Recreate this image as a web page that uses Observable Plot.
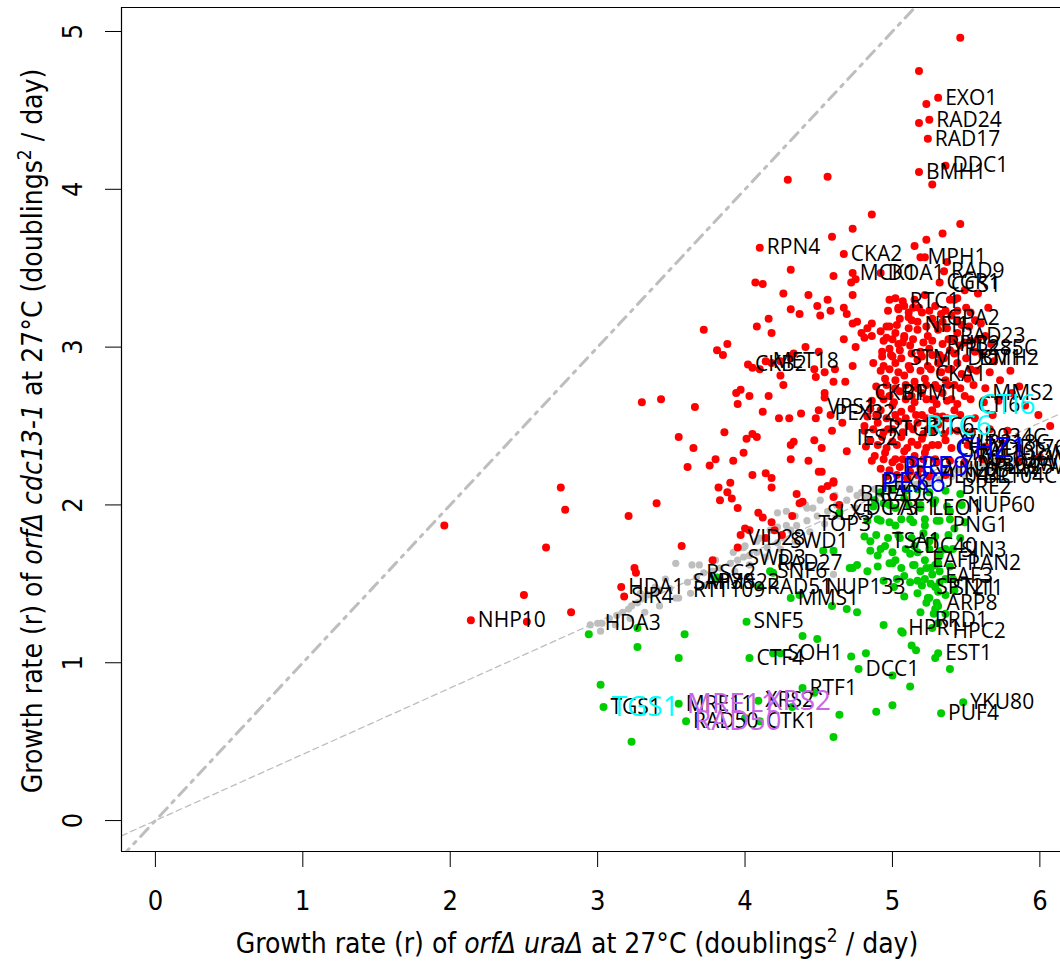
<!DOCTYPE html>
<html>
<head>
<meta charset="utf-8">
<script src="https://cdn.jsdelivr.net/npm/d3@7"></script>
<script src="https://cdn.jsdelivr.net/npm/@observablehq/plot@0.6"></script>
<style>
  body { margin: 0; background: #fff; }
  #chart { width: 1060px; height: 962px; overflow: hidden; }
</style>
</head>
<body>
<div id="chart"></div>
<script>
// Axis ranges and ticks (growth rate, doublings^2/day)
const xDomain = [-0.23, 6.14];
const yDomain = [-0.196, 5.152];
const xTicks = [0, 1, 2, 3, 4, 5, 6];
const yTicks = [0, 1, 2, 3, 4, 5];

// Reference lines through the origin: identity and fitted genetic-independence slope
const identitySlope = 1;
const fitSlope = 0.42;

// Deletions fitter than expected in cdc13-1 (suppressors)
const suppressors = [
  [5.46,4.96],[5.18,4.75],[5.31,4.58],[5.23,4.54],[5.25,4.44],[5.18,4.42],[5.24,4.32],[5.36,4.15],[5.18,4.11],[5.27,4.03],[4.29,4.06],[4.56,4.08],
  [4.86,3.84],[5.46,3.78],[4.73,3.75],[4.59,3.70],[5.34,3.72],[5.23,3.68],[5.15,3.64],[4.10,3.63],[4.67,3.59],[5.19,3.57],[5.22,3.57],[5.37,3.54],
  [4.31,3.49],[4.73,3.47],[4.92,3.47],[5.35,3.48],[4.60,3.45],[4.07,3.41],[4.12,3.40],[4.75,3.43],[4.72,3.41],[5.32,3.41],[5.58,3.34],[4.26,3.34],
  [4.43,3.33],[4.73,3.33],[4.98,3.30],[5.07,3.29],[4.56,3.30],[4.49,3.26],[4.58,3.23],[4.31,3.24],[4.37,3.21],[4.51,3.20],[4.67,3.25],[4.69,3.21],
  [5.04,3.25],[5.14,3.25],[5.39,3.30],[5.44,3.31],[5.50,3.25],[4.16,3.18],[4.08,3.13],[4.18,3.09],[3.88,3.02],[3.85,2.95],[4.76,3.16],[4.73,3.15],
  [4.86,3.15],[4.83,3.12],[4.92,3.10],[4.98,3.13],[4.79,3.09],[4.81,3.06],[4.86,3.07],[4.96,3.06],[4.67,3.05],[4.75,3.00],[4.41,3.00],[4.14,2.91],
  [4.24,2.91],[4.31,2.93],[4.93,2.97],[5.00,2.94],[5.04,3.02],[5.08,3.06],[5.11,3.19],[4.73,2.88],[4.87,2.90],[4.94,2.88],[4.02,2.89],[4.10,2.86],
  [3.72,3.11],[3.81,2.98],[4.05,2.87],[4.18,2.90],[4.24,2.82],[4.33,2.96],[4.47,2.86],[4.48,2.81],[4.54,2.84],[4.61,2.86],[4.50,2.97],[4.60,2.78],
  [4.68,2.78],[4.26,2.76],[3.94,2.71],[3.97,2.73],[4.03,2.69],[4.16,2.69],[4.54,2.71],[4.54,2.68],[3.30,2.65],[3.43,2.67],[3.66,2.62],[3.95,2.64],
  [4.12,2.59],[4.23,2.55],[4.30,2.55],[4.38,2.58],[4.50,2.60],[4.48,2.55],[4.58,2.57],[4.66,2.52],[4.59,2.47],[3.86,2.46],[3.55,2.43],[3.65,2.36],
  [4.05,2.45],[4.01,2.42],[4.08,2.43],[4.33,2.40],[4.31,2.38],[4.47,2.41],[4.52,2.36],[4.69,2.34],[3.80,2.29],[3.76,2.25],[3.61,2.24],[3.92,2.28],
  [3.99,2.33],[4.31,2.29],[4.43,2.28],[4.50,2.21],[4.52,2.21],[4.05,2.19],[4.14,2.20],[4.18,2.17],[4.60,2.15],
  [2.75,2.11],[2.78,1.97],[1.96,1.87],[2.65,1.73],[2.50,1.43],[2.82,1.32],[2.14,1.27],[2.52,1.26],[3.16,1.48],
  [3.40,2.01],[3.21,1.93],[3.57,1.74],[3.78,1.65],[3.25,1.60],[3.26,1.57],[3.18,1.42],
  [3.82,2.11],[3.90,2.14],[3.88,2.08],[3.91,2.04],[3.95,1.98],[3.83,2.03],[4.18,2.11],[4.35,2.07],[4.37,2.01],[4.39,2.02],[4.52,2.10],[4.56,2.12],
  [4.60,2.14],[4.60,2.05],[4.64,2.00],[4.09,1.95],[4.12,1.92],[4.18,1.89],[4.32,1.93],[4.00,1.85],[4.03,1.84],[3.97,1.81],[3.95,1.73],[4.20,1.84],
  [4.14,1.79],[4.25,1.81],
  [5.02,3.31],[5.08,3.26],[5.15,3.30],[5.22,3.33],[5.29,3.26],[5.36,3.23],[5.42,3.30],[5.49,3.36],
  [5.05,3.18],[5.13,3.17],[5.20,3.22],[5.27,3.18],[5.34,3.16],[5.40,3.20],[5.47,3.14],[5.56,3.17],
  [5.02,3.09],[5.08,3.07],[5.17,3.11],[5.24,3.07],[5.31,3.11],[5.38,3.05],[5.44,3.09],[5.53,3.04],[5.63,3.07],
  [4.98,2.99],[5.05,2.98],[5.12,3.01],[5.19,2.97],[5.25,2.99],[5.32,2.95],[5.39,2.98],[5.46,3.01],[5.56,2.97],
  [5.02,2.90],[5.11,2.88],[5.17,2.92],[5.24,2.88],[5.31,2.90],[5.38,2.86],[5.44,2.90],[5.53,2.86],
  [4.95,2.80],[5.02,2.79],[5.08,2.82],[5.15,2.78],[5.22,2.80],[5.29,2.76],[5.36,2.79],[5.42,2.76],[5.51,2.80],
  [4.92,2.71],[4.98,2.69],[5.05,2.72],[5.13,2.69],[5.20,2.71],[5.27,2.67],[5.34,2.71],[5.40,2.67],[5.49,2.69],
  [4.85,2.61],[4.92,2.60],[5.00,2.63],[5.06,2.59],[5.13,2.61],[5.20,2.57],[5.27,2.60],[5.34,2.56],[5.42,2.60],
  [4.81,2.50],[4.90,2.52],[4.97,2.48],[5.04,2.53],[5.11,2.50],[5.17,2.52],[5.24,2.48],[5.31,2.51],[5.39,2.47],
  [4.85,2.41],[4.93,2.43],[5.00,2.40],[5.06,2.43],[5.13,2.40],[5.20,2.42],[5.27,2.38],[5.36,2.41],
  [4.88,2.31],[4.95,2.33],[5.02,2.29],[5.08,2.34],[5.15,2.31],[5.22,2.33],[5.29,2.29],
  [4.92,2.23],[4.98,2.22],[5.05,2.24],[5.12,2.21],[5.19,2.23],
  [4.97,3.23],[5.04,3.24],[5.11,3.22],[5.18,3.25],[5.25,3.23],[5.33,3.21],[5.44,3.23],[5.53,3.22],[5.65,3.25],
  [4.96,3.13],[5.03,3.14],[5.11,3.12],[5.17,3.16],[5.23,3.13],[5.30,3.14],[5.37,3.12],[5.44,3.16],[5.52,3.13],[5.60,3.15],
  [4.94,3.04],[5.00,3.05],[5.07,3.03],[5.14,3.05],[5.21,3.03],[5.27,3.04],[5.34,3.02],[5.41,3.05],[5.49,3.03],[5.58,3.05],[5.67,3.02],
  [4.93,2.94],[4.99,2.95],[5.06,2.93],[5.13,2.96],[5.20,2.94],[5.27,2.95],[5.35,2.93],[5.42,2.96],[5.50,2.93],[5.61,2.95],
  [4.92,2.85],[4.98,2.86],[5.04,2.84],[5.12,2.86],[5.19,2.85],[5.26,2.86],[5.33,2.84],[5.40,2.86],[5.47,2.83],[5.57,2.85],[5.66,2.84],
  [4.89,2.75],[4.96,2.76],[5.02,2.74],[5.09,2.76],[5.17,2.74],[5.23,2.76],[5.31,2.74],[5.38,2.76],[5.46,2.74],[5.55,2.76],[5.63,2.74],
  [4.86,2.66],[4.94,2.67],[5.01,2.65],[5.09,2.67],[5.15,2.65],[5.23,2.67],[5.30,2.64],[5.37,2.66],[5.44,2.64],[5.53,2.67],[5.62,2.65],[5.72,2.66],
  [4.83,2.56],[4.89,2.57],[4.96,2.55],[5.02,2.57],[5.09,2.55],[5.16,2.57],[5.23,2.55],[5.30,2.56],[5.37,2.55],[5.46,2.57],[5.56,2.55],[5.68,2.57],
  [4.81,2.47],[4.87,2.48],[4.94,2.46],[5.00,2.48],[5.07,2.46],[5.14,2.48],[5.21,2.45],[5.27,2.47],[5.35,2.45],[5.44,2.47],[5.54,2.46],[5.66,2.48],[5.78,2.47],
  [4.82,2.37],[4.90,2.38],[4.96,2.36],[5.03,2.38],[5.10,2.36],[5.17,2.38],[5.23,2.36],[5.31,2.38],[5.40,2.36],[5.51,2.38],[5.63,2.37],[5.75,2.39],[5.86,2.36],
  [4.86,2.28],[4.94,2.29],[5.00,2.27],[5.07,2.29],[5.14,2.27],[5.21,2.29],[5.30,2.27],[5.39,2.28],[5.49,2.27],[5.61,2.29],[5.73,2.29],[5.85,2.28],[6.00,2.30],
  [4.96,2.18],[5.03,2.19],[5.10,2.17],[5.17,2.19],[5.25,2.18],[5.36,2.19],
  [5.73,2.79],[5.81,2.71],[5.90,2.63],[5.99,2.57],[6.07,2.50],[5.69,2.91],[5.80,2.85],[5.86,2.75]
];

// Deletions less fit than expected in cdc13-1 (enhancers)
const enhancers = [
  [2.94,1.18],[3.27,1.22],[3.59,1.18],[3.27,1.10],[4.01,1.26],[4.39,1.17],[4.49,1.15],[4.64,1.95],[4.53,1.71],[4.60,1.71],[4.17,1.58],[4.19,1.57],
  [4.31,1.41],[4.37,1.43],[4.59,1.36],[4.69,1.34],[4.76,1.32],[4.71,1.60],[4.73,1.60],[4.76,1.62],[3.81,1.54],[4.10,1.48],
  [3.55,1.03],[3.02,0.86],[3.04,0.72],[3.23,0.50],[3.55,0.74],[3.60,0.63],[4.03,1.03],[4.19,1.06],[4.24,1.06],[4.09,0.76],[4.10,0.63],[4.39,0.84],
  [4.47,0.81],[4.32,0.72],[4.72,1.04],[4.82,1.06],[4.77,0.96],[5.00,0.92],[5.12,0.85],[5.13,1.11],[5.16,1.08],[5.31,1.06],[5.29,1.03],[5.39,0.96],
  [4.64,0.67],[4.60,0.53],[4.89,0.69],[5.00,0.73],[5.33,0.68],[5.48,0.75],[4.00,0.65],
  [4.83,1.58],[5.00,1.63],[5.14,1.62],[5.01,1.48],[5.17,1.52],[5.20,1.49],[5.26,1.50],[5.29,1.48],[5.31,1.45],[5.24,1.41],[5.23,1.38],[5.30,1.38],
  [5.31,1.36],[4.94,1.24],[5.06,1.20],[5.07,1.19],[5.28,1.31],[5.27,1.22],[5.31,1.25],[5.26,1.60],[5.29,1.62],[5.32,1.58],[5.27,1.56],
  [4.88,2.03],[4.98,2.00],[5.08,2.04],[5.19,2.00],[5.29,2.03],[5.39,1.96],
  [4.92,1.90],[5.02,1.87],[5.12,1.91],[5.22,1.87],[5.32,1.90],[5.42,1.85],
  [4.85,1.77],[4.95,1.74],[5.05,1.79],[5.15,1.74],[5.25,1.77],[5.36,1.72],
  [4.90,1.68],[5.02,1.65],[5.12,1.69],[5.22,1.65],[5.32,1.68],
  [5.08,1.55],[5.19,1.58],[5.36,1.53],[5.42,1.46],
  [4.92,2.08],[5.00,2.10],[5.09,2.09],[5.17,2.10],[5.25,2.08],[5.36,2.09],[5.46,2.07],
  [4.87,1.99],[4.94,2.01],[5.02,1.98],[5.11,2.00],[5.19,1.98],[5.28,2.01],[5.37,1.99],[5.47,2.00],
  [4.83,1.90],[4.90,1.91],[4.98,1.89],[5.06,1.91],[5.14,1.89],[5.22,1.91],[5.30,1.90],[5.39,1.91],[5.49,1.89],
  [4.81,1.80],[4.89,1.81],[4.97,1.79],[5.04,1.81],[5.13,1.79],[5.21,1.82],[5.29,1.80],[5.38,1.81],[5.46,1.79],
  [4.85,1.71],[4.92,1.72],[5.00,1.70],[5.09,1.72],[5.17,1.70],[5.25,1.72],[5.33,1.71],[5.41,1.72],
  [4.90,1.61],[4.98,1.63],[5.06,1.60],[5.15,1.62],[5.23,1.60],[5.31,1.63],[5.39,1.61],
  [4.94,1.52],[5.03,1.53],[5.12,1.51],[5.22,1.53],[5.32,1.51],[5.41,1.53],
  [5.08,1.42],[5.17,1.44],[5.25,1.41],[5.36,1.43],
  [5.19,1.32],[5.29,1.34],[5.36,1.31]
];

// Deletions behaving as expected (no genetic interaction)
const neutral = [
  [2.95,1.24],[3.00,1.25],[3.03,1.25],[3.08,1.28],[3.13,1.30],[3.17,1.32],[3.21,1.34],[3.23,1.36],[3.27,1.38],[3.31,1.41],[3.34,1.43],[3.39,1.44],
  [3.42,1.46],[3.49,1.47],[3.55,1.41],[3.53,1.63],[3.64,1.62],[3.61,1.51],[3.67,1.54],[3.72,1.57],[3.78,1.58],[3.83,1.60],[3.90,1.63],[3.95,1.65],
  [3.99,1.67],[4.03,1.68],[4.08,1.70],[4.15,1.73],[4.22,1.76],[4.26,1.79],[4.31,1.84],[4.35,1.87],[4.42,1.90],[4.49,1.93],[4.56,1.96],[4.62,2.00],
  [4.69,2.03],[4.76,2.06],[4.22,1.95],[4.28,1.96],[4.42,1.98],[4.46,1.98],[4.22,1.86],[4.28,1.87],[4.08,1.77],[3.99,1.73],[3.92,1.70],[4.60,1.56],
  [4.79,2.08],[4.83,2.05],[4.88,2.10],[4.92,2.07],[4.96,2.12],[5.00,2.09],[5.04,2.14],[5.08,2.11],[5.12,2.16],[5.16,2.13],[5.20,2.17],[5.24,2.14],
  [5.28,2.19],[5.32,2.16],[5.36,2.21],[5.40,2.18],[5.44,2.22],[5.49,2.19],[5.53,2.24],[5.57,2.21],[5.61,2.25],[5.65,2.22],[5.69,2.27],[5.73,2.24],
  [5.78,2.28],[5.84,2.26],[5.89,2.30],[5.95,2.28],[6.00,2.32],[6.07,2.29],
  [3.02,1.20],[3.12,1.24],[3.22,1.28],[3.32,1.32],[3.42,1.36],[3.53,1.41],[3.63,1.44],[3.73,1.49],[3.83,1.53],[3.93,1.58],[4.03,1.62],[4.14,1.67],
  [4.24,1.72],[4.34,1.77],[4.44,1.83],[4.54,1.88],[4.64,1.93],[4.75,1.98],
  [3.29,1.44],[3.39,1.48],[3.46,1.53],[3.69,1.62],[3.80,1.65],[4.00,1.74],[4.10,1.79],[4.17,1.84],[4.34,1.93],[4.41,2.00],[4.51,2.03],[4.61,2.06],[4.71,2.10]
];

// Gene names printed next to their points
const geneNames = ["EXO1","RAD24","RAD17","DDC1","BMH1","RPN4","CKA2","MPH1","MCK1","DOA1","RAD9","RTC1","CKB2","MET18",
  "NHP10","HDA1","SIR4","HDA3","SNF5","CTF4","SOH1","DCC1","RTF1","EST1","PUF4","YKU80","TGS1","MRE11","RAD50","XRS2","CTK1",
  "STM1","DOT1","BMH2","CKA1","RAD23","MMS2","CTI6","RTC6","CHZ1","PRE9","PEX6","IES2",
  "NFI1","GPA2","PHB2","CKB1","VPS1","PEX32","RTG3","PNG1","ARP8","RRD1","HPR1","HPC2",
  "VID28","SWD1","SWD3","RAD27","SNF6","RSC2","SAP30","MMS22","RTT109","RAD51","NUP133","MMS1","SLX5","TOP3",
  "CGR1","CCS1","YPL285C","PPM1",
  "BRE1","RAD6","BRE2","CDC73","PAF1","LEO1","NUP60","TSA1","CDC40","SIN3","EAF1","PAN2","EAF3","SPT21","SNT1",
  "YDR034C","YLR218C","YML102W","YGL036W","YOR304W","YPL225W","YNL034W","YJL044C","YBL104C","YDL176W"];
const geneX = [5.31,5.25,5.24,5.36,5.18,4.10,4.67,5.19,4.73,4.92,5.35,5.07,4.02,4.14,
  2.14,3.16,3.18,3.00,4.01,4.03,4.24,4.77,4.39,5.31,5.33,5.48,3.04,3.55,3.60,4.09,4.10,
  5.07,5.46,5.54,5.24,5.41,5.63,5.53,5.17,5.38,5.02,4.87,4.71,
  5.17,5.32,5.32,4.83,4.51,4.56,4.92,5.36,5.32,5.24,5.06,5.36,
  3.97,4.26,3.97,4.17,4.17,3.69,3.60,3.69,3.60,4.10,4.50,4.31,4.51,4.45,
  5.32,5.35,5.36,5.02,
  4.73,4.87,5.42,4.68,4.92,5.22,5.46,4.95,5.08,5.42,5.22,5.46,5.31,5.25,5.36,
  5.39,5.44,5.47,5.51,5.42,5.56,5.32,5.25,5.49,5.63];
const geneY = [4.58,4.44,4.32,4.15,4.11,3.63,3.59,3.57,3.47,3.47,3.48,3.29,2.89,2.91,
  1.27,1.48,1.42,1.25,1.26,1.03,1.06,0.96,0.84,1.06,0.68,0.75,0.72,0.74,0.63,0.76,0.63,
  2.93,2.93,2.93,2.83,3.07,2.71,2.63,2.50,2.36,2.24,2.14,2.42,
  3.14,3.18,3.02,2.71,2.62,2.58,2.48,1.87,1.38,1.27,1.22,1.20,
  1.79,1.77,1.66,1.63,1.58,1.57,1.51,1.51,1.46,1.48,1.48,1.41,1.95,1.88,
  3.41,3.39,2.99,2.71,
  2.07,2.07,2.11,1.98,1.98,1.98,2.00,1.77,1.74,1.71,1.65,1.63,1.55,1.48,1.47,
  2.43,2.39,2.33,2.29,2.26,2.24,2.22,2.18,2.18,2.36];

// Highlighted gene groups
const cyanGenes = ["TGS1","RTC6","CTI6"];
const blueGenes = ["CHZ1","PRE9","PEX6"];
const purpleGenes = ["MRE11","XRS2","RAD50"];

const labels = geneNames.map((g, i) => ({gene: g, x: geneX[i], y: geneY[i]}));
const pick = (names) => labels.filter(d => names.includes(d.gene));
const toRows = (arr) => arr.map(([x, y]) => ({x, y}));

const lineAt = (slope) => xDomain.map(x => ({x, y: x * slope}));

const labelFont = "'Open Sans', 'DejaVu Sans', sans-serif";
const axisFont = "'DejaVu Sans Condensed', 'DejaVu Sans', sans-serif";

const plot = Plot.plot({
  width: 1060,
  height: 962,
  marginTop: 7,
  marginLeft: 121,
  marginBottom: 111,
  marginRight: 0,
  style: {fontFamily: axisFont, fontSize: "27px", color: "black", background: "white"},
  x: {domain: xDomain, ticks: xTicks, tickSize: 16, tickPadding: 23, tickFormat: d => String(d), label: null},
  y: {domain: yDomain, ticks: yTicks, tickSize: 16, tickFormat: () => "", label: null},
  marks: [
    Plot.line(lineAt(identitySlope), {x: "x", y: "y", stroke: "#bebebe", strokeWidth: 3, strokeDasharray: "11,7,3,7", clip: true}),
    Plot.line(lineAt(fitSlope), {x: "x", y: "y", stroke: "#bebebe", strokeWidth: 1.3, strokeDasharray: "6,4", clip: true}),
    Plot.dot(toRows(neutral), {x: "x", y: "y", r: 3.6, fill: "#bebebe", stroke: "none", clip: true}),
    Plot.dot(toRows(suppressors), {x: "x", y: "y", r: 4, fill: "#ff0000", stroke: "none", clip: true}),
    Plot.dot(toRows(enhancers), {x: "x", y: "y", r: 4, fill: "#00cd00", stroke: "none", clip: true}),
    Plot.text(labels, {x: "x", y: "y", text: "gene", textAnchor: "start", dx: 7, fontSize: 21, fontFamily: labelFont, fill: "black", clip: true}),
    Plot.text(pick(cyanGenes), {x: "x", y: "y", text: "gene", textAnchor: "start", dx: 8, fontSize: 28, fontFamily: labelFont, fill: "#00ffff", clip: true}),
    Plot.text(pick(blueGenes), {x: "x", y: "y", text: "gene", textAnchor: "start", dx: 8, fontSize: 28, fontFamily: labelFont, fill: "#0000ff", clip: true}),
    Plot.text(pick(purpleGenes), {x: "x", y: "y", text: "gene", textAnchor: "start", dx: 8, fontSize: 28, fontFamily: labelFont, fill: "#c966e6", clip: true}),
    // y tick labels, parallel to the axis
    Plot.text(yTicks, {x: () => xDomain[0], y: d => d, text: d => String(d), rotate: -90, dx: -48, fontSize: 27}),
    // plot box (left, top, bottom)
    Plot.ruleY([yDomain[0], yDomain[1]], {stroke: "black", strokeWidth: 1.2}),
    Plot.ruleX([xDomain[0]], {stroke: "black", strokeWidth: 1.2})
  ]
});

// Axis titles with italic genotypes and a superscript
function addTitle(svg, x, y, rotate, genotype) {
  const t = d3.select(svg).append("text")
    .attr("transform", `translate(${x},${y}) rotate(${rotate})`)
    .attr("text-anchor", "middle")
    .attr("font-family", axisFont)
    .attr("font-size", 28)
    .attr("fill", "black");
  t.append("tspan").text("Growth rate (r) of ");
  t.append("tspan").attr("font-style", "italic").text(genotype);
  t.append("tspan").text(" at 27°C (doublings");
  t.append("tspan").attr("baseline-shift", "super").attr("font-size", 19).text("2");
  t.append("tspan").text(" / day)");
}
addTitle(plot, 577, 953, 0, "orfΔ uraΔ");
addTitle(plot, 42, 431, -90, "orfΔ cdc13-1");

document.getElementById("chart").appendChild(plot);
</script>
</body>
</html>
